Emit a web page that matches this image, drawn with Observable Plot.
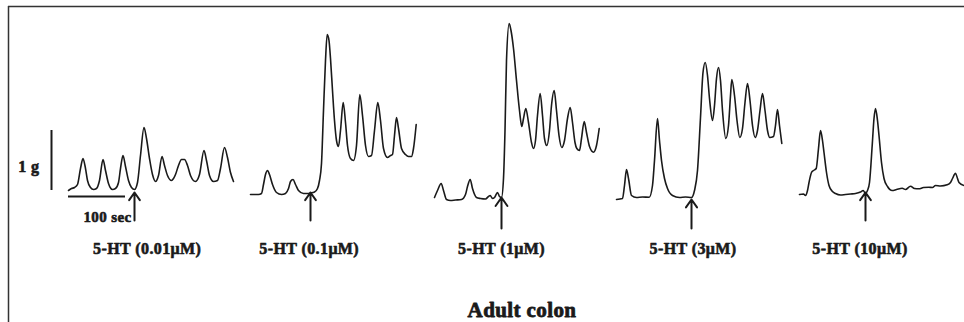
<!DOCTYPE html>
<html>
<head>
<meta charset="utf-8">
<script src="https://cdn.jsdelivr.net/npm/d3@7"></script>
<script src="https://cdn.jsdelivr.net/npm/@observablehq/plot@0.6"></script>
<style>
  html, body { margin: 0; padding: 0; background: #fff; }
  #chart svg text { letter-spacing: 0.4px; }
</style>
</head>
<body>
<div id="chart"></div>
<script>
// Chart units: time runs left→right along the recording, force grows upward.
const trace1 = [[68,190],[71,188],[74,187],[77,184],[80,168],[82.5,158],[85,168],[87,180],[90,187],[93,189],[96,188],[99,180],[102.5,159],[105,170],[108,183],[112,189],[115,188],[118,182],[120,168],[122.5,155],[125,166],[128,180],[131,187],[134,189],[137,182],[140,155],[143.5,127],[146,138],[149,158],[152,174],[155,181],[158,175],[161.5,156],[164,165],[167,175],[171,180],[173,178],[175,174],[178,165],[181,159],[184,159],[187,165],[190,175],[195,181],[199,174],[203.5,150],[206,160],[209,175],[213,181],[217,180],[220,168],[224,147],[227,157],[230,172],[233,181]];
const trace2 = [[250,194],[258,194],[261,193],[263,184],[265,174],[267,170],[269,174],[272,184],[276,192],[281,194],[285,193],[288,188],[290,181],[292.5,179],[295,184],[298,190],[303,193],[307,193],[310,192.5],[314,191.5],[317,188],[319,180],[321,163],[323,110],[325,60],[326.7,34],[328.5,40],[330,58],[332,90],[334,120],[336,140],[338,146],[340,130],[342.7,102],[345,122],[347,145],[350,158],[353,160],[356,145],[359.3,94],[362,115],[365,145],[368,156],[371,155],[374,130],[377.3,102],[380,120],[383,148],[387,157],[390,155],[392,154],[394,135],[396,117],[398,128],[401,148],[405,154],[408,156],[411,156],[413,148],[415.7,124]];
const trace3 = [[434,197],[437,190],[440.7,183],[443,190],[446,199],[450,200],[455,199.5],[461,199],[465,194],[467,186],[469.7,179],[472,188],[476,197],[480,198],[485,198.5],[488,196],[489.7,195],[492,198],[494,197],[497,192],[499,196],[501,197],[503,178],[504.5,130],[506,60],[508.7,23],[510.5,30],[513,48],[516,80],[519,110],[521.3,126],[523,118],[525.3,108],[528,122],[531,142],[533,148],[535,140],[537,115],[539.7,93],[542,115],[544,138],[546.3,145],[549,130],[551,105],[553.7,90],[556,110],[558.5,135],[561.3,147],[564,140],[567,118],[569.7,107],[572,122],[574.5,142],[576.3,148],[579,150],[581,138],[583.7,121],[586,132],[589,146],[593,151.7],[596,145],[598.7,128]];
const trace4 = [[616,199],[622,198],[624,185],[626,169],[628,178],[631,195],[636,197],[642,196.5],[648.7,196.7],[652,185],[654,160],[657,118],[659,140],[661,160],[664,178],[667,188],[672,195],[679,197],[685,196.5],[691,197],[694,190],[697,170],[700,117],[702.5,72],[704.7,62],[707,75],[709,98],[712,120],[714,105],[716,78],[718,67],[720,80],[722,110],[725.3,138],[728,125],[730,95],[731.3,79],[734,95],[736.5,120],[739.3,137],[742,128],[744.5,102],[747,83],[749.5,100],[752,125],[754.7,137],[757,130],[759.5,110],[762,93],[764.5,110],[767,130],[769.3,137],[773,136],[775,125],[777,109],[779,125],[781.3,143]];
const trace5 = [[799,194],[803,193.5],[805,195],[807,190],[808.5,182],[811,172],[813,170],[815.7,168],[818,148],[820,130],[822,140],[823.5,152],[826,172],[828.5,185],[832,191],[835,193],[840,194.5],[845,194],[850,193.5],[855,193],[860,191.5],[862.7,190],[865,193],[867,190],[869,182],[871.7,145],[873.5,118],[875,108],[877,120],[878.5,135],[881,162],[883.5,178],[887,186],[891.7,190],[896,189],[901.7,187.7],[905,189],[910,185.7],[914,188],[918.3,188.3],[923,187],[928.3,186.7],[932,187],[935,185],[940,185.5],[946.7,184.3],[950,182],[952,178],[955,172.7],[957,178],[958.5,182],[963.5,185]];

// 5-HT additions
const doseLabels = ["5-HT (0.01μM)", "5-HT (0.1μM)", "5-HT (1μM)", "5-HT (3μM)", "5-HT (10μM)"];
const doseLabelX = [146.7, 308.7, 501, 692.5, 859.5];
const arrowX = [134, 310, 501, 691, 865];
const arrowTipY = [192, 192, 197, 199, 192];
const arrowTailY = [220, 220, 228, 228, 220];

// calibration bars
const forceBar = {x: 51, y1: 130, y2: 190, label: "1 g"};
const timeBar = {y: 196, x1: 68, x2: 125, label: "100 sec"};
const title = "Adult colon";

const traces = [trace1, trace2, trace3, trace4, trace5];
const traceData = traces.flatMap((t, i) => t.map(([x, y]) => ({x, y, trace: i})));
const arrows = arrowX.map((x, i) => ({x, tip: arrowTipY[i], tail: arrowTailY[i], label: doseLabels[i], lx: doseLabelX[i]}));

const ink = "#1a1a1a";
const serif = "Liberation Serif, Times New Roman, serif";
const heavy = {fontFamily: serif, fontWeight: "bold", fill: ink, stroke: ink, strokeWidth: 0.6, lineAnchor: "middle"};

const chart = Plot.plot({
  width: 964,
  height: 322,
  margin: 0,
  x: {domain: [0, 964], axis: null},
  y: {domain: [322, 0], axis: null},
  style: {background: "#fff"},
  marks: [
    // frame
    Plot.ruleX([8], {y1: 6, y2: 322, stroke: "#333", strokeWidth: 1.5}),
    Plot.ruleY([6], {x1: 8, x2: 964, stroke: "#333", strokeWidth: 1.5}),
    // traces
    Plot.line(traceData, {x: "x", y: "y", z: "trace", stroke: ink, strokeWidth: 1.6, curve: "monotone-x"}),
    // calibration bars
    Plot.ruleX([forceBar], {x: "x", y1: "y1", y2: "y2", stroke: ink, strokeWidth: 2}),
    Plot.ruleY([timeBar], {y: "y", x1: "x1", x2: "x2", stroke: ink, strokeWidth: 2}),
    Plot.text([forceBar], {...heavy, x: 39, y: 166.5, text: "label", fontSize: 16, textAnchor: "end"}),
    Plot.text([timeBar], {...heavy, x: 107, y: 217, text: "label", fontSize: 15}),
    // arrows
    Plot.arrow(arrows, {x1: "x", y1: "tail", x2: "x", y2: "tip", stroke: ink, strokeWidth: 2, headLength: 8, headAngle: 70}),
    // dose labels
    Plot.text(arrows, {...heavy, x: "lx", y: 248.5, text: "label", fontSize: 16}),
    // title
    Plot.text([title], {...heavy, x: 521.5, y: 310, text: d => d, fontSize: 21, strokeWidth: 0.8})
  ]
});
document.getElementById("chart").appendChild(chart);
</script>
</body>
</html>
